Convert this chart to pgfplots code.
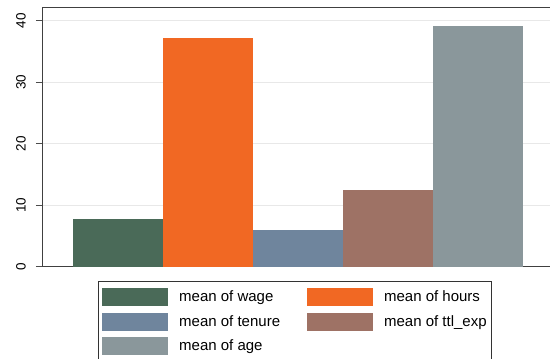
\documentclass[border=0pt]{standalone}
\usepackage{fontspec}
\setmainfont{Liberation Sans}
\usepackage{pgfplots}
\pgfplotsset{compat=1.18}
\definecolor{cwage}{RGB}{74,106,88}
\definecolor{chours}{RGB}{241,104,35}
\definecolor{ctenure}{RGB}{111,133,157}
\definecolor{cttl}{RGB}{158,114,101}
\definecolor{cage}{RGB}{138,151,155}
\begin{document}
\begin{tikzpicture}
\useasboundingbox (-42bp,-91.3bp) rectangle (508bp,266.8bp);
\begin{axis}[
 at={(0,0)}, anchor=south west,
 scale only axis, width=512bp, height=259.5bp,
 xmin=-0.8444, xmax=4.8444, ymin=0, ymax=42.17,
 enlargelimits=false,
 xtick=\empty, ytick={0,10,20,30,40},
 ytick pos=left, tick align=outside, major tick length=6bp,
 ymajorgrids, major grid style={draw=black!9, line width=0.9bp},
 axis line style={draw=black!75, line width=0.9bp},
 tick style={draw=black!70, line width=0.8bp},
 /pgf/number format/assume math mode=true,
 yticklabel shift=10bp,
 yticklabel style={rotate=90, anchor=south, inner sep=0pt, font=\fontsize{13.5bp}{16bp}\selectfont},
 ybar, bar width=90bp,
 legend columns=2, legend cell align=left,
 legend style={name=mylegend, at={(axis description cs:0.1094,-0.055)}, anchor=north west, draw=none, fill=white, inner xsep=4bp, inner ysep=7bp, font=\fontsize{15bp}{18bp}\selectfont, nodes={inner sep=0pt, text depth=0.15em}, row sep=6.5bp, /tikz/every odd column/.style={column sep=11bp}, /tikz/column 2/.style={column sep=27bp}},
 legend image code/.code={\fill[#1] (0bp,-9bp) rectangle (66bp,9bp);},
]
\addplot[fill=cwage, draw=none, bar shift=0pt] coordinates {(0,7.766949)};
\addlegendentry{mean of wage}
\addplot[fill=chours, draw=none, bar shift=0pt] coordinates {(1,37.21811)};
\addlegendentry{mean of hours}
\addplot[fill=ctenure, draw=none, bar shift=0pt] coordinates {(2,5.97785)};
\addlegendentry{mean of tenure}
\addplot[fill=cttl, draw=none, bar shift=0pt] coordinates {(3,12.53498)};
\addlegendentry{mean of ttl\_exp}
\addplot[fill=cage, draw=none, bar shift=0pt] coordinates {(4,39.15316)};
\addlegendentry{mean of age}
\end{axis}
\draw[black!80, line width=0.6bp] (mylegend.north west) rectangle ([yshift=-8bp]mylegend.south east);
\end{tikzpicture}
\end{document}
